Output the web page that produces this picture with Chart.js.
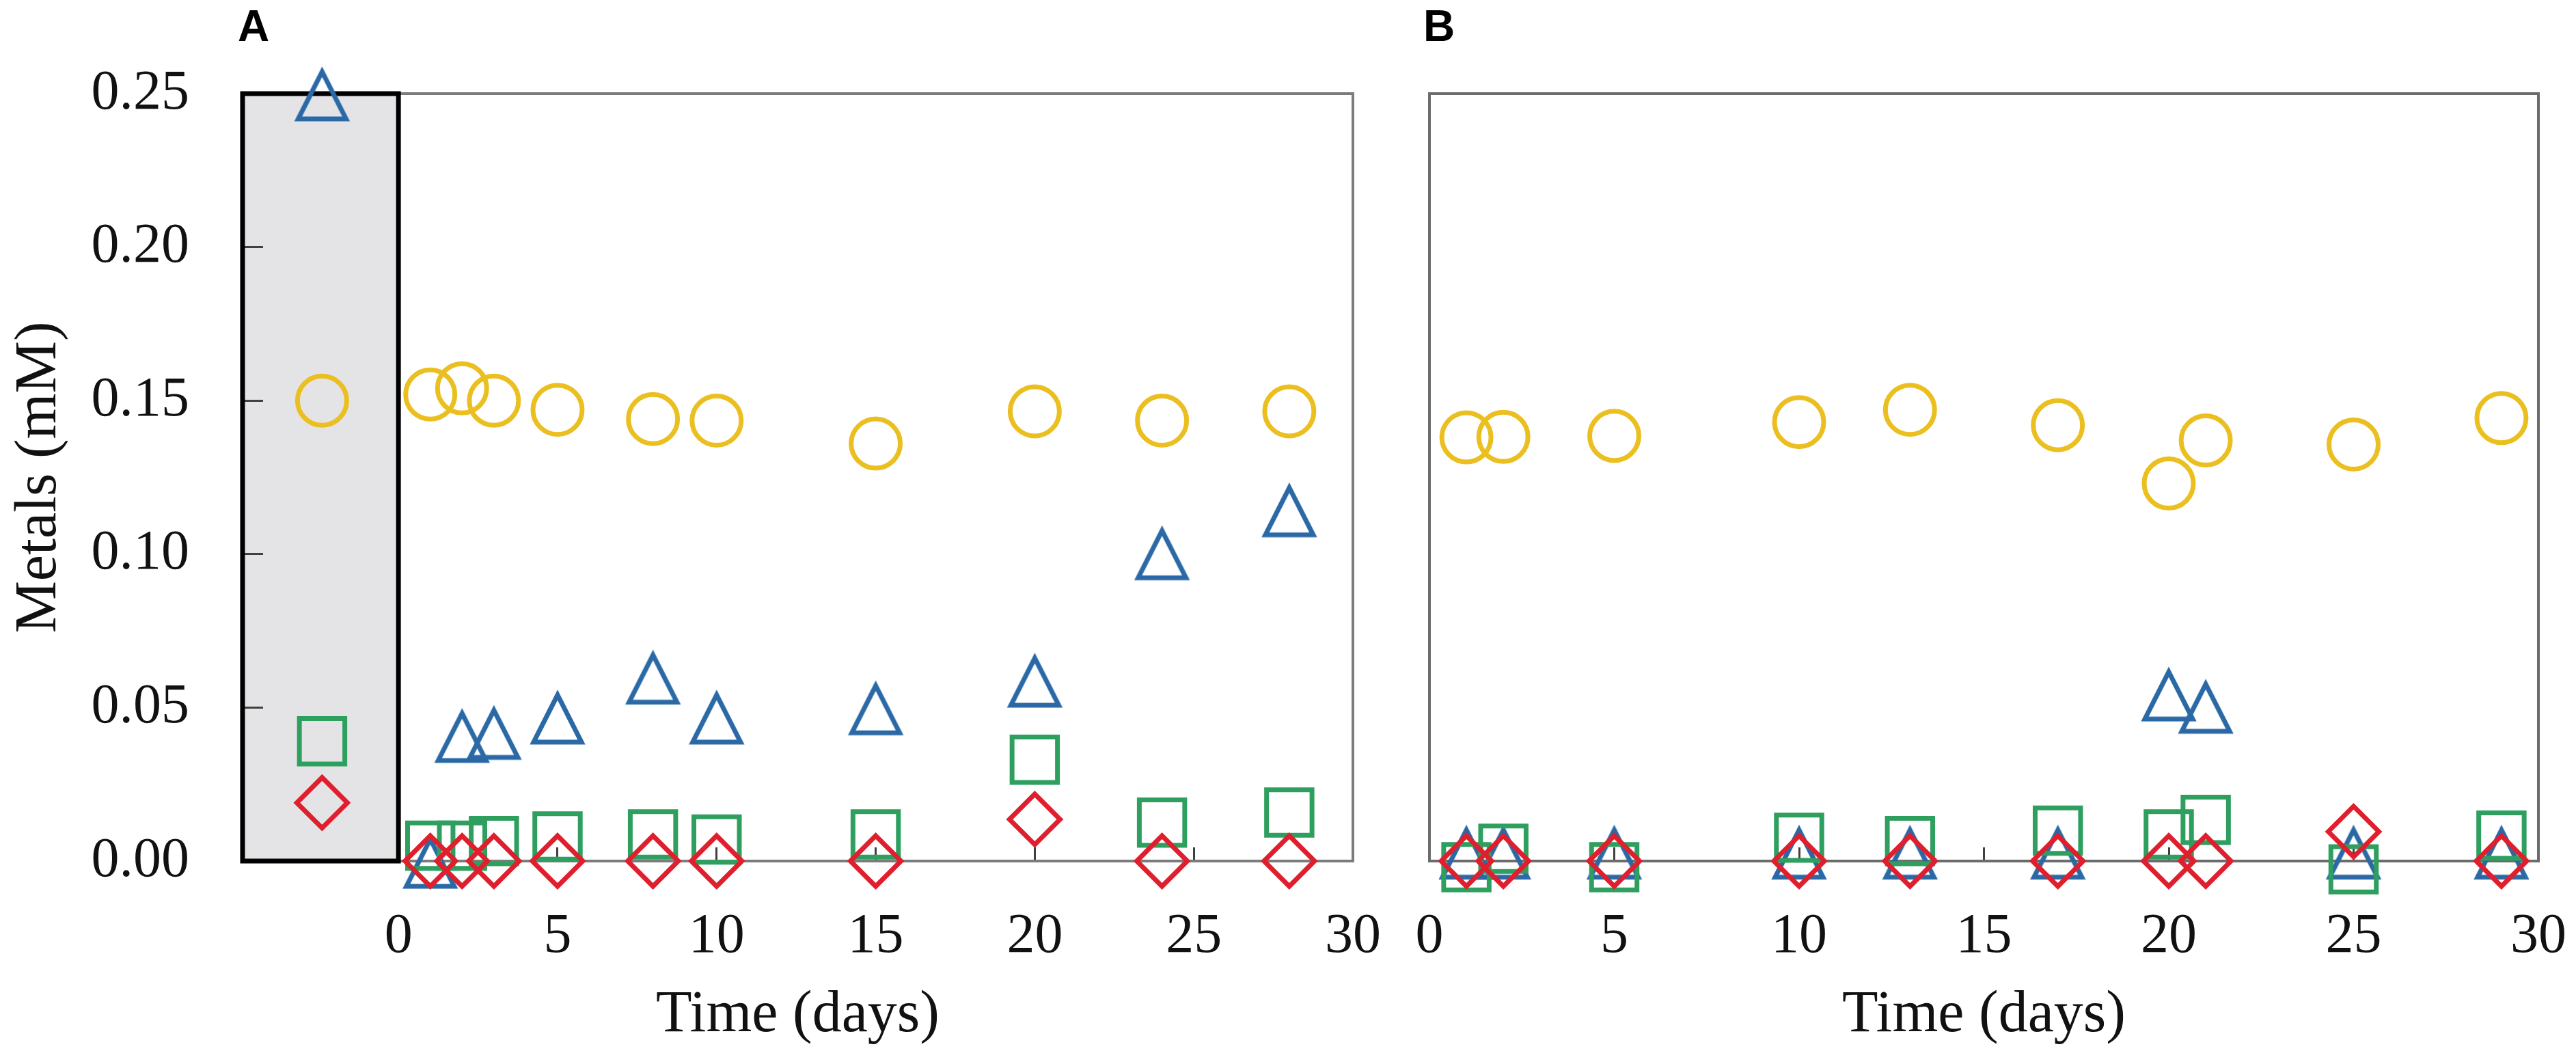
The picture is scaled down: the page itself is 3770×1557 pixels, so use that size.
<!DOCTYPE html>
<html>
<head>
<meta charset="utf-8">
<script src="https://cdn.jsdelivr.net/npm/chart.js@4.4.1/dist/chart.umd.min.js"></script>
<style>
  html, body { margin: 0; padding: 0; background: #ffffff; }
  #wrap { position: relative; width: 3770px; height: 1557px; overflow: hidden; }
  canvas { position: absolute; left: 0; top: 0; }
  .panel-tag {
    position: absolute; top: 6px; margin: 0;
    font: bold 64px "Liberation Sans", Arial, sans-serif; line-height: 1; color: #000;
  }
</style>
</head>
<body>
<div id="wrap">
  <canvas id="chart-a" width="3770" height="1557"></canvas>
  <canvas id="chart-b" width="3770" height="1557"></canvas>
  <div class="panel-tag" style="left:348px">A</div>
  <div class="panel-tag" style="left:2083px">B</div>
</div>
<script>
// panel A (pre-sample shown at negative time inside the grey box)
const daysA = [-2.4, 1, 2, 3, 5, 8, 10, 15, 20, 24, 28];
const circlesA = [0.150, 0.152, 0.154, 0.150, 0.147, 0.144, 0.1435, 0.136, 0.1465, 0.1435, 0.1465];
const trianglesA = [0.250, 0.000, 0.041, 0.042, 0.047, 0.060, 0.047, 0.050, 0.059, 0.1005, 0.1145];
const squaresA = [0.039, 0.005, 0.005, 0.0065, 0.008, 0.0087, 0.007, 0.0087, 0.033, 0.0125, 0.0158];
const diamondsA = [0.019, 0, 0, 0, 0, 0, 0, 0, 0.0136, 0, 0];

// panel B
const daysB = [1, 2, 5, 10, 13, 17, 20, 21, 25, 29];
const circlesB = [0.138, 0.1382, 0.1385, 0.143, 0.147, 0.142, 0.123, 0.137, 0.1357, 0.1443];
const trianglesB = [0.003, 0.003, 0.003, 0.003, 0.003, 0.003, 0.0545, 0.0505, 0.003, 0.003];
const squaresB = [-0.002, 0.004, -0.002, 0.0076, 0.0065, 0.0099, 0.0087, 0.0134, -0.0027, 0.0083];
const diamondsB = [0, 0, 0, 0, 0, 0, 0, 0, 0.0096, 0];

// axis ticks
const yTicks = [0, 0.05, 0.10, 0.15, 0.20, 0.25];
const xTicks = [0, 5, 10, 15, 20, 25, 30];

const COLORS = { circle: "#EBBF20", triangle: "#2A69A5", square: "#2E9F5F", diamond: "#DF1F2D" };
const SERIF = "'Liberation Serif', 'Times New Roman', serif";

// isoceles open triangle, as Excel draws it
function triangleMarker(color) {
  const c = document.createElement("canvas");
  c.width = 88;
  c.height = 88;
  const g = c.getContext("2d");
  g.strokeStyle = color;
  g.lineWidth = 7;
  g.lineJoin = "miter";
  g.beginPath();
  g.moveTo(44, 12);
  g.lineTo(79, 81);
  g.lineTo(9, 81);
  g.closePath();
  g.stroke();
  return c;
}

function pts(xs, ys) {
  return xs.map((x, i) => ({ x, y: ys[i] }));
}

// index 0 is painted last, so diamonds sit on top
function makeDatasets(days, diamonds, squares, triangles, circles) {
  const base = { showLine: false, clip: false, backgroundColor: "rgba(0,0,0,0)" };
  return [
    { ...base, label: "diamond", data: pts(days, diamonds), pointStyle: "rectRot",
      pointRadius: 37, borderColor: COLORS.diamond, borderWidth: 7 },
    { ...base, label: "square", data: pts(days, squares), pointStyle: "rect",
      pointRadius: 47, borderColor: COLORS.square, borderWidth: 7 },
    { ...base, label: "triangle", data: pts(days, triangles), pointStyle: triangleMarker(COLORS.triangle),
      pointRadius: 40, borderColor: COLORS.triangle, borderWidth: 0 },
    { ...base, label: "circle", data: pts(days, circles), pointStyle: "circle",
      pointRadius: 36, borderColor: COLORS.circle, borderWidth: 7 },
  ];
}

// grey pre-sample box + plot frame
const panelFrame = {
  id: "panelFrame",
  beforeDraw(chart, args, opts) {
    if (!opts.shade) return;
    const { ctx, chartArea: a, scales: { x } } = chart;
    ctx.save();
    ctx.fillStyle = "#E4E4E6";
    ctx.fillRect(a.left, a.top, x.getPixelForValue(0) - a.left, a.bottom - a.top);
    ctx.restore();
  },
  beforeDatasetsDraw(chart, args, opts) {
    const { ctx, chartArea: a, scales: { x } } = chart;
    ctx.save();
    ctx.strokeStyle = opts.frameColor || "#7a7a7a";
    ctx.lineWidth = opts.frameWidth || 4;
    ctx.strokeRect(a.left, a.top, a.right - a.left, a.bottom - a.top);
    if (opts.shade) {
      ctx.strokeStyle = "#000000";
      ctx.lineWidth = 7;
      ctx.strokeRect(a.left, a.top, x.getPixelForValue(0) - a.left, a.bottom - a.top);
    }
    ctx.restore();
  },
};

// labels pushed down with a tall line box instead of tick padding,
// since padding also widens the side overflow and squeezes the plot
function xScale(min, showTitle) {
  return {
    type: "linear",
    min: min,
    max: 30,
    afterBuildTicks: (s) => { s.ticks = xTicks.map((v) => ({ value: v })); },
    afterFit: (s) => { s.height = 297; },
    grid: { drawOnChartArea: false, drawTicks: true, tickLength: -20, tickWidth: 3, color: "#404040" },
    border: { display: false },
    ticks: { font: { family: SERIF, size: 82, lineHeight: 3.2 }, color: "#111", padding: 0,
      maxRotation: 0, autoSkip: false },
    title: { display: showTitle, text: "Time (days)", font: { family: SERIF, size: 86 }, color: "#111",
      padding: { top: 0, bottom: 19 } },
  };
}

function yScale(labelled) {
  return {
    type: "linear",
    min: 0,
    max: 0.25,
    afterBuildTicks: (s) => { s.ticks = yTicks.map((v) => ({ value: v })); },
    afterFit: (s) => { s.width = labelled ? 355 : 10; },
    grid: { display: labelled, drawOnChartArea: false, drawTicks: true, tickLength: -30, tickWidth: 3, color: "#404040" },
    border: { display: false },
    ticks: { display: labelled, font: { family: SERIF, size: 82, lineHeight: 0.5 }, color: "#111", padding: 108,
      callback: (v) => v.toFixed(2) },
    title: { display: labelled, text: "Metals (mM)", font: { family: SERIF, size: 86 }, color: "#111",
      padding: { top: 7, bottom: 0 } },
  };
}

function buildChart(id, datasets, opts) {
  return new Chart(document.getElementById(id).getContext("2d"), {
    type: "scatter",
    data: { datasets },
    options: {
      responsive: false,
      animation: false,
      devicePixelRatio: 1,
      events: [],
      layout: { padding: opts.padding },
      plugins: {
        legend: { display: false },
        tooltip: { enabled: false },
        panelFrame: opts.frame,
      },
      scales: { x: xScale(opts.xMin, true), y: yScale(opts.labelled) },
    },
    plugins: [panelFrame],
  });
}

buildChart("chart-a", makeDatasets(daysA, diamondsA, squaresA, trianglesA, circlesA), {
  padding: { left: 0, top: 137, right: 1790, bottom: 0 },
  xMin: -4.9,
  labelled: true,
  frame: { shade: true, frameColor: "#7c7c7c", frameWidth: 4 },
});

buildChart("chart-b", makeDatasets(daysB, diamondsB, squaresB, trianglesB, circlesB), {
  padding: { left: 2082, top: 137, right: 55, bottom: 0 },
  xMin: 0,
  labelled: false,
  frame: { shade: false, frameColor: "#6c6c6c", frameWidth: 4 },
});
</script>
</body>
</html>
